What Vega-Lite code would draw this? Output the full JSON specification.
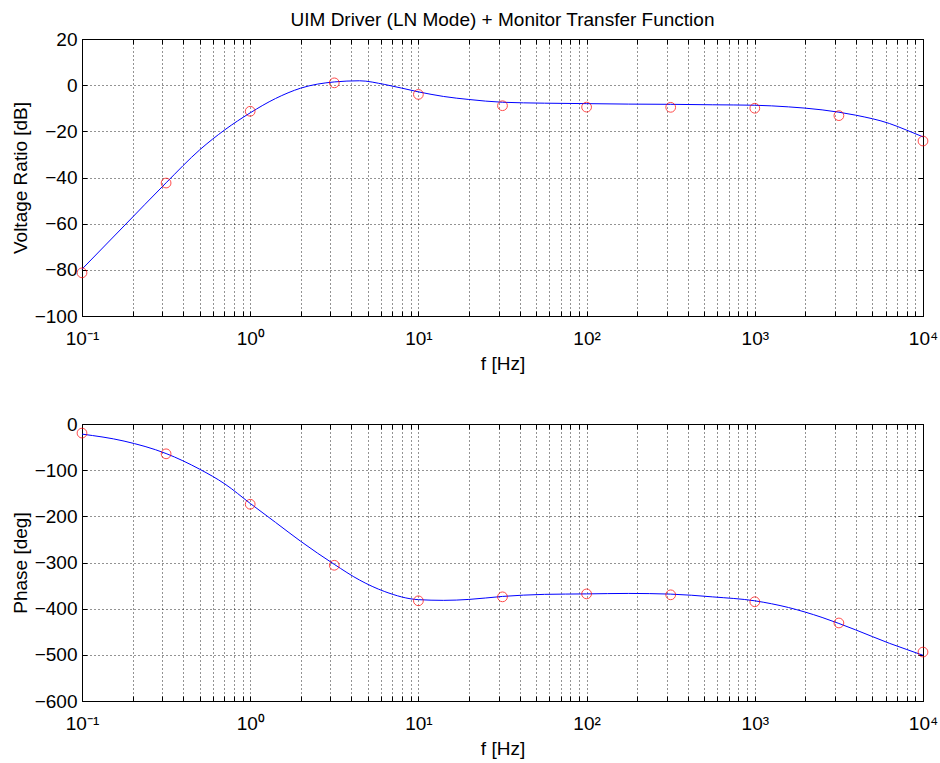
{
  "$schema": "https://vega.github.io/schema/vega-lite/v6.json",
  "padding": {"left": 10, "top": 10, "right": 5, "bottom": 5},
  "background": "white",
  "bounds": "flush",
  "spacing": 108,
  "config": {
    "font": "Liberation Sans",
    "view": {"stroke": "#000000", "strokeWidth": 1},
    "axis": {
      "labelFont": "Liberation Sans",
      "titleFont": "Liberation Sans",
      "labelFontSize": 19,
      "titleFontSize": 19,
      "titleFontWeight": "normal",
      "labelColor": "#000000",
      "titleColor": "#000000",
      "domain": false,
      "tickColor": "#000000",
      "tickSize": -5,
      "gridColor": "#000000",
      "gridOpacity": 0.85,
      "gridDash": [1, 3],
      "gridWidth": 1
    },
    "title": {"font": "Liberation Sans", "fontSize": 19, "fontWeight": "normal", "color": "#000000"}
  },
  "datasets": {
    "curve": [
      {"f": 0.1, "mag": -79.7, "phase": -21.9},
      {"f": 0.1778, "mag": -61.0, "phase": -37},
      {"f": 0.3162, "mag": -42.3, "phase": -64},
      {"f": 0.5012, "mag": -28.0, "phase": -98},
      {"f": 0.7079, "mag": -19.3, "phase": -130},
      {"f": 1, "mag": -12.0, "phase": -172},
      {"f": 1.413, "mag": -5.8, "phase": -213},
      {"f": 1.995, "mag": -1.3, "phase": -254},
      {"f": 3.162, "mag": 1.4, "phase": -304},
      {"f": 4.467, "mag": 1.9, "phase": -338},
      {"f": 6.31, "mag": 0.3, "phase": -363},
      {"f": 10, "mag": -2.9, "phase": -380.5},
      {"f": 14.13, "mag": -4.9, "phase": -382},
      {"f": 19.95, "mag": -6.2, "phase": -380},
      {"f": 31.62, "mag": -7.4, "phase": -373.5},
      {"f": 56.23, "mag": -7.8, "phase": -369},
      {"f": 100, "mag": -8.0, "phase": -368},
      {"f": 177.8, "mag": -8.2, "phase": -367},
      {"f": 316.2, "mag": -8.3, "phase": -368.5},
      {"f": 562.3, "mag": -8.5, "phase": -374.5},
      {"f": 1000, "mag": -8.7, "phase": -383},
      {"f": 1585, "mag": -9.4, "phase": -397.5},
      {"f": 2512, "mag": -10.7, "phase": -419},
      {"f": 3981, "mag": -13.0, "phase": -446},
      {"f": 6310, "mag": -16.6, "phase": -475},
      {"f": 7943, "mag": -19.4, "phase": -488},
      {"f": 10000, "mag": -22.4, "phase": -501}
    ],
    "meas": [
      {"f": 0.1, "mag": -81.3, "phase": -19.7},
      {"f": 0.3162, "mag": -42.4, "phase": -64.6},
      {"f": 1, "mag": -11.3, "phase": -173.8},
      {"f": 3.162, "mag": 1.0, "phase": -306},
      {"f": 10, "mag": -4.0, "phase": -383},
      {"f": 31.62, "mag": -8.9, "phase": -374.4},
      {"f": 100, "mag": -9.5, "phase": -368},
      {"f": 316.2, "mag": -9.6, "phase": -370},
      {"f": 1000, "mag": -10.0, "phase": -385},
      {"f": 3162, "mag": -13.2, "phase": -431},
      {"f": 10000, "mag": -24.2, "phase": -494}
    ]
  },
  "vconcat": [
    {
      "width": 841,
      "height": 277,
      "title": {"text": "UIM Driver (LN Mode) + Monitor Transfer Function", "frame": "group", "anchor": "middle", "baseline": "alphabetic", "offset": -15},
      "layer": [
        {
          "data": {"name": "curve"},
          "mark": {"type": "line", "color": "#0000ff", "strokeWidth": 1, "interpolate": "monotone"},
          "encoding": {
            "x": {"field": "f", "type": "quantitative",
              "scale": {"type": "log", "domain": [0.1, 10000], "nice": false},
              "axis": {"orient": "bottom", "title": "f [Hz]", "titleY": 47, "titleBaseline": "middle",
                "values": [0.1,0.2,0.3,0.4,0.5,0.6,0.7,0.8,0.9,1,2,3,4,5,6,7,8,9,10,20,30,40,50,60,70,80,90,100,200,300,400,500,600,700,800,900,1000,2000,3000,4000,5000,6000,7000,8000,9000,10000],
                "labelExpr": "datum.value == 0.1 ? '10⁻¹' : datum.value == 1 ? '10⁰' : datum.value == 10 ? '10¹' : datum.value == 100 ? '10²' : datum.value == 1000 ? '10³' : datum.value == 10000 ? '10⁴' : ''",
                "labelFlush": false, "labelOverlap": false, "labelPadding": 18, "grid": true}
            },
            "y": {"field": "mag", "type": "quantitative",
              "scale": {"domain": [-100, 20], "nice": false, "zero": false},
              "axis": {"orient": "left", "title": "Voltage Ratio [dB]", "titleX": -62, "titleY": 138.5, "titleAngle": -90, "titleAlign": "center", "titleBaseline": "middle",
                "values": [-100, -80, -60, -40, -20, 0, 20], "labelPadding": 10, "grid": true, "labelOverlap": false}
            }
          }
        },
        {
          "data": {"name": "meas"},
          "mark": {"type": "point", "shape": "circle", "filled": false, "color": "#ff0000", "size": 95, "strokeWidth": 1},
          "encoding": {
            "x": {"field": "f", "type": "quantitative",
              "scale": {"type": "log", "domain": [0.1, 10000], "nice": false},
              "axis": {"orient": "top", "title": null, "labels": false, "grid": false,
                "values": [0.1,0.2,0.3,0.4,0.5,0.6,0.7,0.8,0.9,1,2,3,4,5,6,7,8,9,10,20,30,40,50,60,70,80,90,100,200,300,400,500,600,700,800,900,1000,2000,3000,4000,5000,6000,7000,8000,9000,10000]}
            },
            "y": {"field": "mag", "type": "quantitative",
              "scale": {"domain": [-100, 20], "nice": false, "zero": false},
              "axis": {"orient": "right", "title": null, "labels": false, "grid": false, "values": [-100, -80, -60, -40, -20, 0, 20]}
            }
          }
        }
      ]
    },
    {
      "width": 841,
      "height": 277,
      "layer": [
        {
          "data": {"name": "curve"},
          "mark": {"type": "line", "color": "#0000ff", "strokeWidth": 1, "interpolate": "monotone"},
          "encoding": {
            "x": {"field": "f", "type": "quantitative",
              "scale": {"type": "log", "domain": [0.1, 10000], "nice": false},
              "axis": {"orient": "bottom", "title": "f [Hz]", "titleY": 47, "titleBaseline": "middle",
                "values": [0.1,0.2,0.3,0.4,0.5,0.6,0.7,0.8,0.9,1,2,3,4,5,6,7,8,9,10,20,30,40,50,60,70,80,90,100,200,300,400,500,600,700,800,900,1000,2000,3000,4000,5000,6000,7000,8000,9000,10000],
                "labelExpr": "datum.value == 0.1 ? '10⁻¹' : datum.value == 1 ? '10⁰' : datum.value == 10 ? '10¹' : datum.value == 100 ? '10²' : datum.value == 1000 ? '10³' : datum.value == 10000 ? '10⁴' : ''",
                "labelFlush": false, "labelOverlap": false, "labelPadding": 18, "grid": true}
            },
            "y": {"field": "phase", "type": "quantitative",
              "scale": {"domain": [-600, 0], "nice": false, "zero": false},
              "axis": {"orient": "left", "title": "Phase [deg]", "titleX": -62, "titleY": 138.5, "titleAngle": -90, "titleAlign": "center", "titleBaseline": "middle",
                "values": [-600, -500, -400, -300, -200, -100, 0], "labelPadding": 10, "grid": true, "labelOverlap": false}
            }
          }
        },
        {
          "data": {"name": "meas"},
          "mark": {"type": "point", "shape": "circle", "filled": false, "color": "#ff0000", "size": 95, "strokeWidth": 1},
          "encoding": {
            "x": {"field": "f", "type": "quantitative",
              "scale": {"type": "log", "domain": [0.1, 10000], "nice": false},
              "axis": {"orient": "top", "title": null, "labels": false, "grid": false,
                "values": [0.1,0.2,0.3,0.4,0.5,0.6,0.7,0.8,0.9,1,2,3,4,5,6,7,8,9,10,20,30,40,50,60,70,80,90,100,200,300,400,500,600,700,800,900,1000,2000,3000,4000,5000,6000,7000,8000,9000,10000]}
            },
            "y": {"field": "phase", "type": "quantitative",
              "scale": {"domain": [-600, 0], "nice": false, "zero": false},
              "axis": {"orient": "right", "title": null, "labels": false, "grid": false, "values": [-600, -500, -400, -300, -200, -100, 0]}
            }
          }
        }
      ]
    }
  ]
}
